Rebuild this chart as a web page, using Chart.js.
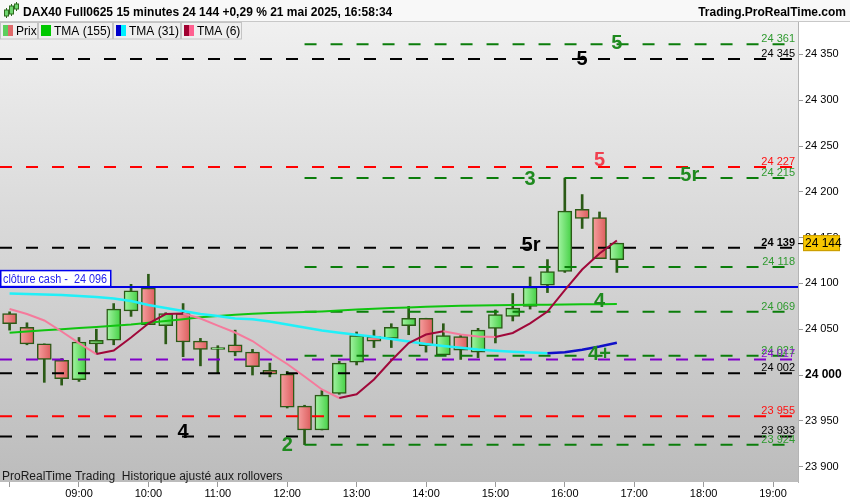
<!DOCTYPE html>
<html><head><meta charset="utf-8">
<script src="https://cdn.jsdelivr.net/npm/chart.js@4.4.1/dist/chart.umd.min.js"></script>
<style>html,body{margin:0;padding:0;background:#fff}canvas{display:block}</style>
</head><body>
<canvas id="c" width="850" height="500"></canvas>
<script>
const FONT = '"Liberation Sans", Arial, sans-serif';
// ---- data ----
const times = ['08:00','08:15','08:30','08:45','09:00','09:15','09:30','09:45','10:00','10:15','10:30','10:45','11:00','11:15','11:30','11:45','12:00','12:15','12:30','12:45','13:00','13:15','13:30','13:45','14:00','14:15','14:30','14:45','15:00','15:15','15:30','15:45','16:00','16:15','16:30','16:45'];
const opens  = [24067,24052,24034,24016,23995,24034,24038,24070,24095,24054,24067,24037,24028,24033,24025,24005,24001,23966,23940,23980,24014,24042,24040,24054,24062,24022,24042,24025,24051,24064,24075,24098,24113,24181,24172,24126];
const highs  = [24069,24057,24034,24018,24041,24050,24078,24099,24110,24068,24078,24040,24032,24049,24028,24013,24004,23967,23983,24015,24047,24049,24056,24075,24062,24056,24044,24051,24071,24089,24107,24126,24215,24197,24178,24144];
const lows   = [24049,24033,23992,23989,23993,24024,24033,24064,24055,24034,24020,24010,24002,24021,24000,23998,23964,23924,23940,23979,24011,24030,24030,24044,24025,24022,24017,24019,24035,24059,24072,24090,24112,24160,24127,24112];
const closes = [24056,24034,24017,23996,24036,24038,24072,24092,24055,24067,24036,24028,24030,24025,24009,24001,23965,23940,23978,24013,24043,24037,24052,24062,24032,24043,24027,24049,24066,24073,24096,24113,24179,24171,24127,24144];
const tma155 = [24046.2,24047.5,24048.8,24049.9,24051.3,24052.4,24053.8,24055.1,24057.0,24059.0,24060.8,24063.0,24064.4,24065.7,24066.8,24067.7,24068.2,24068.8,24069.4,24070.4,24071.4,24072.4,24073.1,24073.8,24074.5,24075.0,24075.5,24076.0,24076.2,24076.4,24076.6,24076.7,24077.0,24077.2,24077.3,24077.5];
const tma31  = [24089.0,24088.4,24087.9,24087.3,24086.2,24085.2,24083.5,24080.8,24076.4,24073.1,24069.9,24066.6,24064.4,24061.7,24060.8,24058.4,24055.1,24051.9,24048.6,24046.2,24044.0,24041.7,24039.3,24036.6,24033.8,24031.7,24029.8,24027.8,24026.5,24025.4,24024.6,24023.7,24024.9,24027.6,24031.1,24035.3];
const tma6   = [24072.1,24066.6,24059.5,24047.5,24034.9,24022.9,24026.7,24040.9,24056.2,24066.6,24067.1,24061.7,24054.0,24046.4,24037.1,24024.0,24012.0,23998.4,23984.2,23974.9,23978.9,23995.1,24015.8,24034.9,24044.2,24047.7,24044.2,24042.0,24041.5,24045.9,24056.4,24069.3,24092.8,24115.2,24132.6,24146.8];
const hourLabels = ['08:00','09:00','10:00','11:00','12:00','13:00','14:00','15:00','16:00','17:00','18:00','19:00'];
const yTicks = [23900,23950,24000,24050,24100,24150,24200,24250,24300,24350];
const levelValues = [24361,24345,24227,24215,24139,24118,24069,24021,24017,24002,23955,23933,23924];
const levelKinds  = ['g','k','r','g','k','g','g','g','p','k','r','k','g'];
const levelStart  = ['12:15','08:00','08:00','12:15','08:00','12:15','12:15','12:15','08:00','08:00','08:00','08:00','12:15'];
const cashClose = 24096;
const lastPrice = 24144;
const annoTexts  = ['5','5','5','3','5r','5r','4','4+','4','2'];
const annoTimes  = ['16:45','16:15','16:30','15:30','17:45','15:30','16:30','16:30','10:30','12:00'];
const annoOffset = [0,0,0,0,0.2,0.05,0,0,0,0];
const annoValues = [24362,24344,24234,24213,24218,24141,24080,24022,23937,23923];
const annoKinds  = ['g','k','r','g','g','k','g','g','k','g'];

// ---- styles ----
const X_MIN = -0.553, X_MAX = 45.44, Y_MIN = 23883.2, Y_MAX = 24385.4;
const dashColor = {g:'#0b7d0b', k:'#000000', r:'#ff0000', p:'#8000c8'};
const labelColor = {g:'#2f9a2f', k:'#000000', r:'#ff1010', p:'#8a10d0'};
const annoColor = {g:'#1f8a1f', k:'#000000', r:'#f0404f'};
const idx = t => times.indexOf(t) >= 0 ? times.indexOf(t) : (() => { const [h,m]=t.split(':').map(Number); return (h*60+m-480)/15; })();
const fmt = v => String(Math.round(v)).replace(/\B(?=(\d{3})+(?!\d))/g, ' ');

const up = times.map((t,i) => closes[i] >= opens[i]);
const wickData = times.map((t,i) => ({x:i, y:[lows[i], highs[i]]}));
const bodyData = times.map((t,i) => ({x:i, y:[Math.min(opens[i],closes[i]), Math.max(opens[i],closes[i])]}));
const series = arr => arr.map((v,i) => ({x:i, y:v}));
const slopeColor = (upC, downC) => ({borderColor: c => c.p1.parsed.y > c.p0.parsed.y ? upC : downC});

function bodyFill(c){
  const i = c.dataIndex;
  const isUp = up[i];
  const xs = c.chart.scales && c.chart.scales.x;
  if (!xs || !isFinite(xs.getPixelForValue(i))) return isUp ? '#74e274' : '#ec7878';
  const px = xs.getPixelForValue(i);
  const g = c.chart.ctx.createLinearGradient(px-7, 0, px+7, 0);
  if (isUp){ g.addColorStop(0,'#a4f4a4'); g.addColorStop(1,'#44d044'); }
  else { g.addColorStop(0,'#f6a0a0'); g.addColorStop(1,'#dc5c5c'); }
  return g;
}

const levelDatasets = levelValues.map((v,k) => ({
  type:'line', data:[{x: levelStart[k]==='08:00' ? X_MIN : idx(levelStart[k]), y:v},{x:X_MAX - 0.15, y:v}],
  borderColor: dashColor[levelKinds[k]], borderWidth:2, borderDash:[12,14], pointRadius:0, order:5
}));

const bgPlugin = {
  id:'bg',
  beforeDraw(chart){
    const ctx = chart.ctx, a = chart.chartArea;
    ctx.save();
    ctx.fillStyle = '#ffffff'; ctx.fillRect(0,0,chart.width,chart.height);
    ctx.fillStyle = '#f8f8f8'; ctx.fillRect(0,0,chart.width,21);
    ctx.strokeStyle = '#c8c8c8'; ctx.lineWidth = 1;
    ctx.beginPath(); ctx.moveTo(0,21.5); ctx.lineTo(chart.width,21.5); ctx.stroke();
    const g = ctx.createLinearGradient(0,a.top,0,a.bottom);
    g.addColorStop(0,'#f0f0f0'); g.addColorStop(1,'#bcbcbc');
    ctx.fillStyle = g; ctx.fillRect(a.left,a.top,a.right-a.left,a.bottom-a.top);
    ctx.restore();
  },
  afterDatasetsDraw(chart){
    const ctx = chart.ctx, a = chart.chartArea, xs = chart.scales.x, ys = chart.scales.y;
    ctx.save();
    // level value labels
    ctx.textAlign = 'right'; ctx.textBaseline = 'alphabetic';
    levelValues.forEach((v,k) => {
      const y = ys.getPixelForValue(v);
      ctx.font = (v===24139 ? 'bold ' : '') + '11px ' + FONT;
      ctx.fillStyle = labelColor[levelKinds[k]];
      ctx.fillText(fmt(v), a.right - 3, y - 2);
    });
    // cash close line label
    const cy = ys.getPixelForValue(cashClose);
    ctx.fillStyle = '#ffffff'; ctx.fillRect(0.5, cy-16.5, 110, 16);
    ctx.strokeStyle = '#0000ee'; ctx.lineWidth = 1.5; ctx.strokeRect(0.75, cy-16.5, 110, 16);
    ctx.fillStyle = '#2222ee'; ctx.font = '12px ' + FONT; ctx.textAlign = 'left';
    const label = 'clôture cash -  ' + fmt(cashClose);
    const w = ctx.measureText(label).width;
    ctx.save(); ctx.translate(3, cy - 4); ctx.scale(Math.min(1, 104 / w), 1);
    ctx.fillText(label, 0, 0); ctx.restore();
    // wave annotations
    ctx.textAlign = 'center'; ctx.textBaseline = 'middle';
    annoTexts.forEach((t,k) => {
      ctx.font = 'bold 20px ' + FONT;
      ctx.fillStyle = annoColor[annoKinds[k]];
      ctx.fillText(t, xs.getPixelForValue(idx(annoTimes[k]) + annoOffset[k]), ys.getPixelForValue(annoValues[k]));
    });
    // footer text
    ctx.textAlign = 'left'; ctx.textBaseline = 'alphabetic';
    ctx.font = '12px ' + FONT; ctx.fillStyle = '#1a1a1a';
    ctx.fillText('ProRealTime Trading  Historique ajusté aux rollovers', 2, a.bottom - 2);
    ctx.restore();
  },
  afterDraw(chart){
    const ctx = chart.ctx, a = chart.chartArea, ys = chart.scales.y;
    ctx.save();
    // header
    ctx.fillStyle = '#000'; ctx.font = 'bold 12px ' + FONT; ctx.textBaseline = 'alphabetic';
    ctx.textAlign = 'left';
    ctx.fillText('DAX40 Full0625 15 minutes 24 144 +0,29 % 21 mai 2025, 16:58:34', 23, 16);
    ctx.textAlign = 'right';
    ctx.fillText('Trading.ProRealTime.com', 846, 16);
    // header icon
    const icon = [[6,10,16],[11,6,14],[16,4,9]];
    ctx.strokeStyle = '#2e6b1e'; ctx.lineWidth = 1;
    icon.forEach(([x,t,b]) => {
      ctx.beginPath(); ctx.moveTo(x+0.5,t-2); ctx.lineTo(x+0.5,b+2); ctx.stroke();
      ctx.fillStyle = '#6fd66f'; ctx.fillRect(x-1.5,t,4,b-t); ctx.strokeRect(x-1.5,t,4,b-t);
    });
    // legend row
    const items = [
      {x0:0, x1:37, c1:'#5ccf5c', c2:'#e06a6a', t:'Prix'},
      {x0:38, x1:112, c1:'#00c800', c2:'#00c800', t:'TMA (155)'},
      {x0:113, x1:180, c1:'#0000cc', c2:'#00f0ff', t:'TMA (31)'},
      {x0:181, x1:241, c1:'#a00030', c2:'#ff6090', t:'TMA (6)'}
    ];
    items.forEach(it => {
      ctx.fillStyle = '#efefef'; ctx.fillRect(it.x0, 22, it.x1-it.x0, 17);
      ctx.strokeStyle = '#c4c4c4'; ctx.lineWidth = 1; ctx.strokeRect(it.x0+0.5, 22.5, it.x1-it.x0, 16.5);
      ctx.fillStyle = it.c1; ctx.fillRect(it.x0+3, 25, 5, 11);
      ctx.fillStyle = it.c2; ctx.fillRect(it.x0+8, 25, 5, 11);
      ctx.fillStyle = '#000'; ctx.font = '12px ' + FONT; ctx.textAlign = 'left';
      ctx.fillText(it.t, it.x0+16, 35);
    });
    // last price box
    const py = ys.getPixelForValue(lastPrice);
    ctx.fillStyle = '#f7c600'; ctx.fillRect(a.right+5, py-8, 37, 16);
    ctx.strokeStyle = '#c89a00'; ctx.lineWidth = 1; ctx.strokeRect(a.right+5.5, py-7.5, 36, 15);
    ctx.fillStyle = '#000'; ctx.font = '12px ' + FONT; ctx.textAlign = 'left'; ctx.textBaseline = 'middle';
    ctx.fillText(fmt(lastPrice), a.right+7, py+0.5);
    ctx.strokeStyle = '#000'; ctx.beginPath(); ctx.moveTo(a.right, py+0.5); ctx.lineTo(a.right+5, py+0.5); ctx.stroke();
    ctx.restore();
  }
};

new Chart(document.getElementById('c'), {
  type:'bar',
  data:{ datasets:[
    {type:'line', label:'TMA (6)', data:series(tma6), borderWidth:2, pointRadius:0, segment:slopeColor('#a0083a','#f57a9c'), borderColor:'#f57a9c', order:1},
    {type:'line', label:'TMA (31)', data:series(tma31), borderWidth:2.5, pointRadius:0, segment:slopeColor('#1010c8','#20f0f8'), borderColor:'#20f0f8', order:2},
    {type:'line', label:'TMA (155)', data:series(tma155), borderWidth:2, pointRadius:0, borderColor:'#10c410', order:3},
    {type:'line', label:'cash', data:[{x:X_MIN,y:cashClose},{x:X_MAX,y:cashClose}], borderColor:'#0000e0', borderWidth:2, pointRadius:0, order:4},
    ...levelDatasets,
    {type:'bar', label:'body', data:bodyData, barThickness:14, grouped:false, borderSkipped:false, borderWidth:1.5,
      borderColor:'#2b5a16', backgroundColor: bodyFill, order:9},
    {type:'bar', label:'wick', data:wickData, barThickness:2, grouped:false, borderWidth:0,
      backgroundColor:'#2b5a16', order:10}
  ]},
  options:{
    responsive:false, animation:false, events:[],
    layout:{padding:{top:22, left:0, right:0, bottom:0}},
    plugins:{legend:{display:false}, tooltip:{enabled:false}, title:{display:false}},
    scales:{
      x:{type:'linear', min:X_MIN, max:X_MAX, offset:false, position:'bottom',
        afterFit(s){ s.height = 18; },
        afterBuildTicks(s){ s.ticks = hourLabels.map((l,i) => ({value:i*4})); },
        ticks:{autoSkip:false, maxRotation:0, padding:0, color:'#000', font:{size:11, family:FONT},
          callback:(v,i) => i === 0 ? '' : hourLabels[i]},
        grid:{drawOnChartArea:false, drawTicks:true, tickLength:5, color:'#9a9a9a', offset:false},
        border:{display:false}},
      y:{type:'linear', position:'right', min:Y_MIN, max:Y_MAX,
        afterFit(s){ s.width = 52; },
        afterBuildTicks(s){ s.ticks = yTicks.map(v => ({value:v})); },
        ticks:{padding:2, color:'#000', callback:v => fmt(v),
          font: c => ({size: c.tick && c.tick.value === 24000 ? 12 : 11, weight: c.tick && c.tick.value === 24000 ? 'bold' : 'normal', family:FONT})},
        grid:{drawOnChartArea:false, drawTicks:true, tickLength:5, color:'#9a9a9a'},
        border:{display:true, color:'#b4b4b4'}}
    }
  },
  plugins:[bgPlugin]
});
</script>
</body></html>
